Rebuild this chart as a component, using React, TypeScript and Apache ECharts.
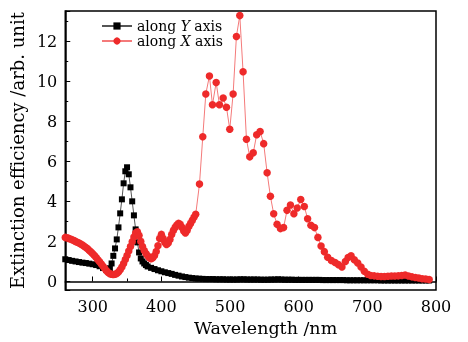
import React, { useEffect, useRef } from "react";
import * as echarts from "echarts";

const range = (a: number, b: number, s: number): number[] => {
  const out: number[] = [];
  for (let i = 0; a + i * s <= b + 1e-9; i++) out.push(+(a + i * s).toFixed(2));
  return out;
};

// wavelength grids (nm)
const blackWavelengths = [...range(260, 320, 5), ...range(322.5, 380, 2.5), ...range(385, 790, 5)];
const blackValues = [
  1.11, 1.07, 1.03, 1.0, 0.97, 0.94, 0.92, 0.89, 0.86, 0.82, 0.76, 0.67, 0.57,
  0.56, 0.66, 0.9, 1.28, 1.65, 2.1, 2.7, 3.4, 4.1, 4.9, 5.5, 5.7, 5.35, 4.7, 4.0, 3.3, 2.6, 1.95, 1.45, 1.15, 1.0, 0.9, 0.82, 0.75,
  0.68, 0.62, 0.56, 0.51, 0.46, 0.42, 0.38, 0.33, 0.29, 0.25, 0.22, 0.19, 0.17, 0.15, 0.14, 0.13, 0.12, 0.12, 0.12, 0.11,
  0.11, 0.11, 0.1, 0.1, 0.1, 0.1, 0.11, 0.11, 0.1, 0.1, 0.1, 0.1, 0.09, 0.09,
  0.09, 0.1, 0.1, 0.11, 0.1, 0.09, 0.09, 0.09, 0.08, 0.08, 0.08, 0.08, 0.08, 0.08,
  0.08, 0.08, 0.07, 0.07, 0.07, 0.07, 0.07, 0.07, 0.07, 0.06, 0.06, 0.06, 0.06, 0.06,
  0.06, 0.06, 0.06, 0.06, 0.06, 0.05, 0.05, 0.05, 0.05, 0.05, 0.05, 0.05, 0.05, 0.05, 0.05, 0.05, 0.05, 0.05, 0.05, 0.05,
];

const redDenseWavelengths = range(260, 450, 2.5);
const redDenseValues = [
  2.2, 2.18, 2.15, 2.12, 2.08, 2.04, 2.0, 1.96, 1.92, 1.87, 1.82, 1.76, 1.7, 1.63, 1.55, 1.47,
  1.39, 1.3, 1.2, 1.09, 0.98, 0.87, 0.76, 0.65, 0.54, 0.45, 0.39, 0.36, 0.35, 0.36, 0.4, 0.47,
  0.58, 0.72, 0.9, 1.1, 1.3, 1.52, 1.75, 1.98, 2.22, 2.42, 2.48, 2.3, 2.0, 1.75, 1.55, 1.4,
  1.28, 1.18, 1.14, 1.18, 1.3, 1.5, 1.78, 2.15, 2.35, 2.15, 1.95, 1.85, 1.92, 2.1, 2.35, 2.55,
  2.7, 2.82, 2.9, 2.85, 2.7, 2.52, 2.42, 2.55, 2.75, 2.9, 3.05, 3.2, 3.35,
];
const redSparseWavelengths = [
  455.5, 460.3, 464.7, 470, 474.4, 479.8, 484.6, 490, 494.8, 499.6, 504.5, 509.3, 514.2, 519, 523.9,
  528.7, 533.8, 538.8, 543.8, 549, 554, 558.8, 563.6, 568.5, 573.4, 578, 583, 588, 593, 597.8, 603,
  608.2, 613, 617.8, 623, 628, 632.6, 637.4, 642.2, 647.6, 653, 658, 663, 668, 672, 676.3, 681, 686,
  690.8, 695.6, 700.5,
];
const redSparseValues = [
  4.86, 7.22, 9.36, 10.26, 8.82, 9.93, 8.82, 9.16, 8.7, 7.6, 9.36, 12.23, 13.27, 10.47, 7.1,
  6.22, 6.42, 7.32, 7.49, 6.88, 5.43, 4.25, 3.38, 2.86, 2.64, 2.69, 3.55, 3.82, 3.38, 3.67, 4.09,
  3.74, 3.13, 2.81, 2.69, 2.2, 1.77, 1.49, 1.21, 1.05, 0.95, 0.84, 0.72, 1.0, 1.2, 1.28, 1.08, 0.92,
  0.72, 0.51, 0.36,
];
const redTailWavelengths = range(705, 790, 5);
const redTailValues = [0.3, 0.28, 0.26, 0.25, 0.25, 0.26, 0.27, 0.27, 0.28, 0.3, 0.32, 0.27, 0.23, 0.2, 0.17, 0.14, 0.12, 0.1];

const seriesNames = ["along Y axis", "along X axis"];
const xAxisTitle = "Wavelength /nm";
const yAxisTitle = "Extinction efficiency /arb. unit";

const zip = (w: number[], v: number[]) => w.map((x, i) => [x, v[i]]);

export default function App() {
  const ref = useRef<HTMLDivElement>(null);
  useEffect(() => {
    const chart = echarts.init(ref.current!, null, { renderer: "svg" });
    const font = "DejaVu Serif";
    const redData = [
      ...zip(redDenseWavelengths, redDenseValues),
      ...zip(redSparseWavelengths, redSparseValues),
      ...zip(redTailWavelengths, redTailValues),
    ];
    const blackData = zip(blackWavelengths, blackValues);
    chart.setOption({
      animation: false,
      grid: { left: 65, right: 32, top: 11, bottom: 48, show: true, borderColor: "#000", borderWidth: 1.5, backgroundColor: "transparent" },
      legend: {
        orient: "vertical",
        left: 101,
        top: 19,
        padding: 0,
        itemWidth: 30,
        itemHeight: 9,
        itemGap: 1,
        data: seriesNames,
        formatter: (name: string) => {
          const parts = name.split(" ");
          return `{n|${parts[0]} }{i|${parts[1]}}{n| ${parts[2]}}`;
        },
        textStyle: {
          fontFamily: font,
          fontSize: 14,
          color: "#000",
          rich: {
            n: { fontFamily: font, fontSize: 14, color: "#000", lineHeight: 16 },
            i: { fontFamily: font, fontSize: 14, color: "#000", fontStyle: "italic", lineHeight: 16 },
          },
        },
      },
      xAxis: {
        type: "value",
        min: 260,
        max: 800,
        splitNumber: 5,
        name: xAxisTitle,
        nameLocation: "middle",
        nameGap: 24,
        nameTextStyle: { fontFamily: font, fontSize: 17.5, color: "#000", padding: [0, 0, 0, 30] },
        axisLine: { show: true, lineStyle: { color: "#000", width: 1.5 } },
        axisTick: { show: true, inside: true, length: 5, lineStyle: { color: "#000", width: 1 } },
        minorTick: { show: true, splitNumber: 2, length: 3, lineStyle: { color: "#000", width: 1 } },
        axisLabel: { fontFamily: font, fontSize: 16, color: "#000", margin: 8, showMinLabel: false },
        splitLine: { show: false },
        minorSplitLine: { show: false },
      },
      yAxis: {
        type: "value",
        min: -0.43,
        max: 13.5,
        splitNumber: 7,
        name: yAxisTitle,
        nameLocation: "middle",
        nameGap: 21,
        nameTextStyle: { fontFamily: font, fontSize: 18, color: "#000" },
        axisLine: { show: true, lineStyle: { color: "#000", width: 1.5 } },
        axisTick: { show: true, inside: true, length: 5, lineStyle: { color: "#000", width: 1 } },
        minorTick: { show: true, splitNumber: 2, length: 3, lineStyle: { color: "#000", width: 1 } },
        axisLabel: { fontFamily: font, fontSize: 16, color: "#000", margin: 8, showMinLabel: false, showMaxLabel: false },
        splitLine: { show: false },
        minorSplitLine: { show: false },
      },
      series: [
        {
          name: seriesNames[0],
          type: "line",
          data: blackData,
          symbol: "rect",
          symbolSize: 6,
          showAllSymbol: true,
          itemStyle: { color: "#000" },
          lineStyle: { color: "#555", width: 1 },
          z: 2,
        },
        {
          name: seriesNames[1],
          type: "line",
          data: redData,
          symbol: "circle",
          symbolSize: 7.5,
          showAllSymbol: true,
          itemStyle: { color: "#ee2a2a" },
          lineStyle: { color: "#f47a7a", width: 1 },
          z: 3,
        },
      ],
    });
    return () => chart.dispose();
  }, []);
  return <div ref={ref} style={{ position: "fixed", left: 0, top: 0, width: 468, height: 342 }} />;
}
